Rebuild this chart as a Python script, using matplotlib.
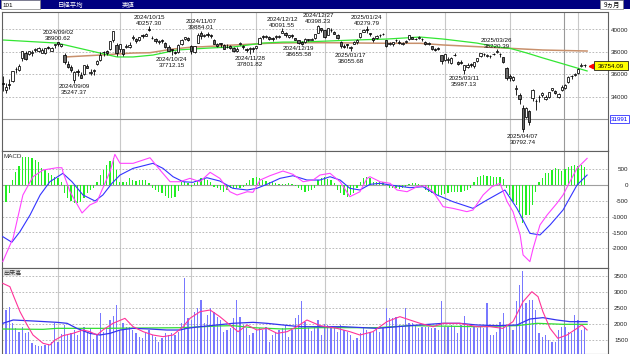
import numpy as np
import matplotlib
matplotlib.use("Agg")
import matplotlib.pyplot as plt
from matplotlib.patches import Rectangle
from matplotlib.transforms import IdentityTransform

# ---- data ----
# daily candles, Aug 2024 .. May 2025 (index = trading day)
opens = [
    35250, 34600, 35150, 35400, 36480, 36380, 37400, 37900, 37800, 37900,
    38180, 38100, 37900, 37900, 38420, 38100, 38600,
    38830, 38520, 37700, 36900, 36600, 35500, 36300, 35900, 36000, 36700,
    36070, 36250, 36900, 37300, 38000, 38100, 38200, 39000, 38600,
    38200, 38200, 38400, 38450, 39200, 39100, 39000, 39450, 39400, 40000,
    39250, 39100, 38900, 39000, 38800, 38400, 38200, 38000, 38000, 38700,
    39100, 39200,
    38500, 38000, 38800, 39700, 39400, 39600, 39500, 39000, 38700, 38800,
    38600, 38400, 38500, 38300, 38100, 38700, 38500, 38200, 38200, 38300,
    38350, 38700, 39400, 39300, 39300, 39200, 39300, 39300, 39700, 39700,
    39300, 39500, 39200, 39000, 38900, 38900, 39100, 39050, 39200, 39700, 40100,
    39900, 39500, 39900, 39800, 39500, 38900, 38500, 38700, 38300, 38700,
    38900, 39300, 39800, 40000, 39700, 39200, 39250, 39500, 39600,
    39000, 38700, 38700, 39000, 38900, 38700, 38900, 39100, 39300, 39100,
    39200, 39100, 38900, 38700, 38500, 38200, 38300, 37700,
    37300, 37300, 37000, 37700, 37100, 37100, 36400, 36600, 36900, 36700,
    37200, 37600, 37800, 37600, 37600, 37800, 38000, 37800, 37500, 36500,
    35800, 35500, 34700, 34100, 33000, 32200, 32700, 33900, 33600, 34000,
    34100, 33800, 34000, 34600, 34500, 34000, 34600, 34800, 35300, 35800, 35900,
    36100, 36700, 36800]
highs = [
    35850, 35250, 35550, 36320, 36590, 36900, 38100, 38070, 38100, 38180,
    38360, 38400, 38300, 38320, 38500, 38450, 38720,
    38900, 38720, 37840, 37160, 36800, 36250, 36450, 36180, 36850, 36900,
    36420, 36420, 37300, 37950, 38050, 38120, 38950, 39830, 38800,
    38690, 38200, 38700, 38900, 39450, 39200, 39350, 39570, 39700, 40257,
    39400, 39180, 39050, 39100, 38850, 38600, 38200, 38100, 38650, 39100,
    39320, 39300,
    38600, 38500, 39700, 39884, 39600, 39800, 39600, 39100, 38800, 38800,
    38700, 38700, 38600, 38450, 38400, 38900, 38600, 38300, 38400, 38400,
    38550, 39300, 39450, 39450, 39400, 39300, 39450, 39450, 40092, 39800,
    39500, 39550, 39250, 39000, 38950, 39250, 39150, 39200, 39600, 40398, 40150,
    39950, 40150, 40100, 39850, 39550, 38950, 38700, 38700, 38550, 38950,
    39100, 39700, 40000, 40280, 39700, 39300, 39450, 39600, 39700,
    39000, 38900, 38900, 39100, 39000, 38900, 39050, 39500, 39350, 39250,
    39400, 39250, 38950, 38850, 38500, 38350, 38400, 37700,
    37800, 37500, 37500, 37900, 37200, 37300, 36800, 37000, 37000, 37100,
    37450, 37900, 37900, 37800, 37700, 37900, 38220, 37900, 37500, 36600,
    36000, 35800, 35000, 34300, 33200, 33100, 32800, 34650, 33800, 34100,
    34400, 34100, 34400, 34800, 34600, 34300, 35000, 35100, 35800, 35900, 36100,
    36500, 37000, 36900]
lows = [
    34480, 34300, 34680, 35280, 36080, 36300, 37200, 37300, 37740, 37590,
    38000, 38000, 37860, 37800, 38200, 38050, 38350,
    38520, 38400, 36900, 36500, 36150, 35247, 35800, 35620, 35950, 36500,
    35950, 35900, 36800, 37200, 37650, 37700, 38150, 38900, 37650,
    37980, 37600, 38300, 38300, 39050, 38800, 38950, 39200, 39400, 39850,
    39100, 38800, 38700, 38800, 38350, 38100, 37712, 37800, 37900, 38600,
    39000, 38950,
    37800, 37900, 38800, 39150, 39300, 39300, 39200, 38700, 38400, 38450,
    38200, 38300, 38200, 37950, 38000, 38600, 38250, 37950, 37802, 37950,
    38200, 38700, 39150, 39200, 39000, 38950, 39150, 39200, 39650, 39350,
    39250, 39250, 39000, 38656, 38600, 38800, 38950, 39000, 39100, 39650, 39800,
    39200, 39500, 39800, 39550, 39150, 38350, 38300, 38300, 38056, 38650,
    38700, 39250, 39750, 39700, 39400, 38900, 39100, 39300, 39500,
    38400, 38600, 38500, 38900, 38700, 38600, 38750, 39000, 39100, 39050,
    39150, 38950, 38600, 38600, 38150, 38050, 38150, 36900,
    37200, 37000, 36900, 37600, 36800, 36900, 35987, 36500, 36600, 36500,
    37100, 37500, 37600, 37500, 37400, 37700, 37900, 37500, 37000, 35500,
    35400, 35400, 34100, 33300, 30793, 32100, 31500, 33600, 32800, 33500,
    34000, 33700, 33900, 34500, 34200, 33900, 34500, 34700, 35200, 35600, 35800,
    36000, 36600, 36600]
closes = [
    35090, 34830, 35025, 36233, 36442, 36727, 38063, 37389, 38063, 37952,
    38211, 38364, 38110, 38289, 38372, 38363, 38648,
    38700, 38686, 37048, 36657, 36391, 36216, 36159, 35620, 36833, 36582,
    36203, 36380, 37155, 37724, 37941, 37870, 38926, 39830, 37920,
    38652, 37809, 38552, 38636, 39333, 38938, 39278, 39381, 39606, 39911,
    39180, 38911, 38982, 38955, 38412, 38105, 38143, 37914, 38606, 39028,
    39277, 39081,
    38054, 38475, 39481, 39381, 39500, 39533, 39376, 38722, 38536, 38643,
    38221, 38414, 38352, 38026, 38284, 38780, 38442, 38135, 38349, 38208,
    38513, 39249, 39276, 39396, 39091, 39161, 39368, 39372, 39849, 39470,
    39457, 39365, 39082, 38814, 38702, 39161, 39037, 39130, 39568, 40281, 39895,
    39307, 40083, 39981, 39605, 39190, 38474, 38445, 38573, 38451, 38903,
    39028, 39646, 39959, 39932, 39566, 39017, 39415, 39514, 39572,
    38520, 38798, 38831, 39067, 38787, 38801, 38964, 39461, 39149, 39174,
    39270, 39165, 38678, 38777, 38238, 38142, 38256, 37156,
    37785, 37331, 37418, 37705, 36887, 37028, 36793, 36819, 36790, 37053,
    37397, 37845, 37752, 37677, 37608, 37781, 38027, 37800, 37120, 35618,
    35624, 35726, 34736, 33781, 31137, 33013, 31714, 34609, 33586, 33982,
    34268, 33920, 34378, 34730, 34280, 34221, 34869, 35039, 35706, 35840, 36045,
    36452, 36831, 36780]

# first trading day of each month (Sep .. May)
month_first = [17, 36, 58, 78, 99, 118, 136, 156, 177]

# moving averages on the price panel, sampled (day index, price)
ma_green_idx = [0, 16.7, 29.9, 35.2, 40.1, 46.2, 53.6, 58.5, 63.8, 70.8, 80.1, 86.2,
                91.5, 99.8, 107.8, 118.2, 128.4, 135.5, 145.9, 152.1, 156.1, 161.3,
                166.2, 171.5, 176.7, 179.8]
ma_green_val = [39045, 38770, 37880, 37530, 37530, 37700, 38150, 38240, 38330, 38420,
                38770, 38860, 38860, 38950, 39040, 39130, 39310, 39130, 38770, 38420,
                38300, 37880, 37440, 36990, 36545, 36280]
ma_brown_idx = [19.2, 29.9, 40.1, 45.3, 52.4, 58.5, 61.4, 71.3, 81.6, 91.5, 101.6,
                118.2, 128.4, 135.5, 145.9, 156.1, 166.2, 179.8]
ma_brown_val = [37530, 37700, 37880, 37910, 38240, 38420, 38440, 38600, 38750, 38800,
                38800, 38750, 38750, 38600, 38450, 38300, 38150, 38060]

# high / low annotations
ann_idx = [17, 22, 45, 52, 61, 76, 86, 91, 97, 107, 112, 142, 152, 160]
ann_kind = ['H', 'L', 'H', 'L', 'H', 'L', 'H', 'L', 'H', 'L', 'H', 'L', 'H', 'L']
ann_date = ['2024/09/02', '2024/09/09', '2024/10/15', '2024/10/24', '2024/11/07',
            '2024/11/28', '2024/12/12', '2024/12/19', '2024/12/27', '2025/01/17',
            '2025/01/24', '2025/03/11', '2025/03/26', '2025/04/07']
ann_value = ['38900.62', '35247.37', '40257.30', '37712.15', '39884.01', '37801.82',
             '40091.55', '38655.58', '40398.23', '38055.68', '40279.79', '35987.13',
             '38220.39', '30792.74']
last_price = 36754.09
cursor_price = 31991
cursor_day = 172.7

# MACD panel
macd_idx = [0, 3.2, 6.2, 9.3, 12.4, 16.7, 18.2, 18.5, 20.7, 24.4, 26.8, 29.0, 30.8,
            33.0, 34.5, 36.1, 40.1, 45.3, 48.4, 51.5, 54.5, 57.6, 60.7, 63.8, 66.8,
            69.9, 72.1, 75.2, 77.0, 79.2, 82.2, 86.2, 89.3, 92.4, 95.5, 97.6, 100.7,
            103.8, 106.8, 109.9, 112.1, 113.0, 116.1, 119.2, 121.3, 124.4, 127.5,
            129.9, 132.4, 135.5, 138.5, 142.8, 144.7, 147.8, 150.5, 153.0, 155.2,
            157.0, 159.2, 160.1, 162.2, 163.2, 165.3, 167.5, 170.5, 172.4, 174.5,
            176.7, 179.8]
macd_val = [-2424, -1675, -316, 262, 474, 547, 547, 420, -212, -885, -632, -527, -95,
            420, 970, 686, 686, 863, 474, 104, 104, 211, 104, 401, 211,
            -212, -316, -212, -231, 158, 294, 442, 338, 104, 158, 316, 370,
            104, -369, -212, 211, 262, 104, 54, -158, -212, -53,
            -22, -212, -685, -738, -843, -790, -316, -53, 54, -527,
            -843, -1580, -2212, -2424, -2001, -1264, -948, -579, -316, 104,
            527, 843]
signal_idx = [0, 2.8, 5.3, 8.4, 11.5, 14.5, 18.5, 21.3, 24.7, 28.4, 30.8, 33.6, 36.1,
              40.1, 46.2, 49.3, 52.4, 55.5, 58.5, 62.8, 66.8, 70.8, 75.2, 78.2, 81.3,
              85.3, 89.3, 93.6, 97.6, 100.7, 103.8, 106.8, 109.9, 113.0, 116.1, 119.2,
              125.3, 129.3, 133.6, 138.5, 144.7, 149.0, 154.5, 158.2, 162.2, 165.3,
              168.4, 172.4, 176.7, 179.8]
signal_val = [-1633, -1811, -1475, -948, -316, 104, 370, 104, -316, -506, -316, 54, 316,
              527, 686, 527, 262, 104, 85, 231, 126, -104, -158, -104, 22,
              211, 294, 158, 158, 262, 158, -104, -158, 22, 54, 0,
              -84, -53, -316, -527, -738, -474, -158, -738, -1528, -1580,
              -1264, -790, 0, 316]
macd_hist = [
    -790, -527, -263, 158, 420, 611, 895, 895, 900, 853, 790, 737, 547, 474, 370, 316, 262, 211, 104,
    -250, -421, -506, -580, -580, -530, -421, -263, -158, -84,
    104, 316, 474, 632, 758, 843, 474,
    84, 84, 84, 211, 158, 130, 158, 158, 158,
    50, -100, -158, -211, -263, -337, -421, -421, -369, -200,
    104, 104, 60, -53, 50,
    126, 211, 180, 150, 80,
    -50, -104, -158, -211, -150,
    -100, -84, -84, -84, -60,
    50, 150, 211, 262, 211, 158, 120, 100, 80, 60,
    30, 20, 40, 60, 40, -30, -104, -158, -211, -180, -150, -104,
    158, 211, 262, 200, 158,
    50, -150, -263, -316, -369, -330, -263, -104,
    100, 230, 262, 211,
    104, 104, 104, 80, 30,
    -104, -104, -104, -120, -104, -60,
    30, 54, 54, 40,
    -50, -158, -211, -263, -290, -316, -316, -300, -263, -211, -211, -211, -211, -180, -158, -104,
    100, 262, 300, 316, 300, 280, 262, 262, 240, 200,
    -100, -316, -527, -632, -843, -1212, -948, -948, -632, -211,
    100, 211, 370, 370, 474, 547, 500, 443, 500, 580, 611, 632, 611, 632, 580]

# volume panel
volume = [
    1990, 2437, 2542, 2021, 1865, 1760, 1917, 1708, 1760, 1396, 1344, 1313, 1313, 1344, 1365,
    1448, 2021, 1427, 1700, 1969, 1656, 1708, 1813, 1656, 1865, 1917, 1760, 1865, 1531, 1656,
    2333, 1760, 1865, 2125, 2250, 2594, 1813, 2021, 1917, 1917, 1813, 1708, 1604, 1552, 1708,
    1813, 1656, 1604, 1448, 1552, 1708, 1656, 1708, 1656, 1760, 2021, 3427, 2177, 2125, 2385,
    2490, 2750, 2021, 2281, 2490, 2385, 2229, 2125, 1760, 1813, 1865, 2177, 2750, 2229, 1969,
    1865, 1656, 1708, 1813, 1865, 1800, 1917, 1448, 1656, 1760, 1813, 1865, 1969, 1604, 1813,
    2177, 2281, 2719, 2073, 1865, 1781, 1917, 2125, 1656, 1990, 1969, 1917, 1865, 1760, 1969,
    1813, 1760, 1656, 1500, 1573, 1708, 1865, 1813, 1760, 1760, 1865, 1760, 1865, 2490, 2177,
    2177, 2229, 1969, 1917, 2490, 2021, 2021, 1969, 1865, 1917, 1917, 1917, 1865, 1865, 1813,
    2719, 1917, 1917, 1969, 1917, 1708, 1969, 2260, 1969, 1865, 1917, 1865, 1917, 1865, 2646,
    1656, 1656, 1760, 2073, 2333, 1917, 1990, 1800, 2719, 3219, 3656, 2646, 2750, 2750, 2437,
    1708, 1604, 1656, 1500, 1448, 1448, 1813, 1917, 1917, 1760, 1708, 2281, 2125, 1813, 1900]
vol_pink_idx = [0, 2.2, 3.2, 5.3, 7.5, 9.3, 12.4, 14.5, 16.1, 18.5, 21.6, 24.7, 26.8, 29.0,
                30.8, 33.9, 37.6, 40.1, 43.2, 46.2, 49.3, 52.4, 55.5, 57.6, 60.7, 63.8,
                66.8, 69.9, 72.4, 75.2, 78.2, 81.3, 84.4, 87.5, 90.5, 93.6, 97.6, 102.8,
                106.8, 109.9, 113.9, 118.2, 122.2, 125.3, 128.4, 132.4, 135.5, 140.7,
                145.9, 149.9, 153.9, 157.0, 160.1, 162.8, 164.7, 166.2, 168.4, 170.8,
                173.6, 176.7, 178.2, 179.8]
vol_pink_val = [3271, 3167, 2906, 2385, 1969, 1656, 1396, 1344, 1500, 1635, 1708, 1812, 1760,
                1656, 1812, 2021, 2177, 1916, 1760, 1656, 1604, 1656, 1916, 2177, 2385,
                2437, 2229, 1969, 1760, 1969, 1812, 1864, 1708, 1760, 1916, 2125, 1950,
                1864, 1760, 1656, 1760, 2073, 2229, 2125, 2021, 1916, 2021, 2021, 1916,
                1916, 1864, 2073, 2698, 3010, 2854, 2385, 1864, 1552, 1656, 1864, 1969,
                1812]
vol_blue_idx = [0, 3.2, 9.3, 16.7, 19.8, 22.8, 26.8, 29.9, 33.0, 36.1, 40.1, 45.3, 50.5,
                54.5, 56.7, 60.7, 65.9, 70.8, 77.0, 81.3, 86.2, 91.5, 96.7, 104.7, 115.2,
                125.3, 135.5, 140.7, 145.9, 152.1, 158.2, 162.2, 166.2, 170.5, 174.5, 179.8]
vol_blue_val = [2021, 2125, 2094, 2052, 2021, 1864, 1708, 1656, 1708, 1812, 1864, 1843, 1812,
                1812, 1864, 1916, 1969, 2021, 2052, 2021, 1969, 1916, 1916, 1916, 1864,
                1948, 2021, 2021, 1969, 1948, 1969, 2156, 2198, 2125, 2073, 2073]
vol_green_idx = [0, 12.4, 16.7, 29.9, 55.5, 65.9, 70.8, 77.0, 86.2, 96.7, 115.2, 125.3,
                 145.9, 158.2, 164.4, 172.4, 179.8]
vol_green_val = [1843, 1833, 1864, 1864, 1885, 1937, 1948, 1885, 1843, 1885, 1885, 1948,
                 1916, 1948, 2021, 1990, 1990]

price_ticks = [34000, 36000, 38000, 40000]
macd_ticks = [-2000, -1500, -1000, -500, 0, 500]
vol_ticks = [1500, 2000, 2500, 3000, 3500]

# ---- figure ----
W, H = 630, 354
JP = ['Noto Sans CJK JP', 'DejaVu Sans']
SMALL = 4.5                      # pt, about 6.25 px
fig = plt.figure(figsize=(W / 100, H / 100), dpi=100)
fig.patch.set_facecolor('white')


def frac(left, top, right, bottom):
    return [left / W, 1 - bottom / H, (right - left) / W, (bottom - top) / H]


def px_rect(left, top, right, bottom, **kw):
    fig.patches.append(Rectangle((left / W, 1 - bottom / H), (right - left) / W,
                                 (bottom - top) / H, transform=fig.transFigure, **kw))


def label(xd, yd, s, ha='left', color='#101010', size=SMALL, z=10):
    # xd, yd: display pixels (y up), yd = vertical middle of the digits
    base = yd - 0.358 * size * 100 / 72
    fig.text(xd / W, base / H, s, ha=ha, va='baseline', fontsize=size,
             family='Liberation Sans', color=color, zorder=z)


# header bar
px_rect(0, 0, 630, 8.5, facecolor='#000080', edgecolor='none')
px_rect(0.5, 0.5, 40, 8.5, facecolor='white', edgecolor='#808080', lw=0.5)
px_rect(600, 0.5, 623, 8.5, facecolor='white', edgecolor='#808080', lw=0.5)
label(2, H - 4.5, '101', color='black')
fig.text(58 / W, 1 - 4.6 / H, '日経平均', fontsize=4.6, family=JP, color='white', va='center')
fig.text(122 / W, 1 - 4.6 / H, '実値', fontsize=4.6, family=JP, color='white', va='center')
fig.text(611.5 / W, 1 - 4.6 / H, '9ヵ月', fontsize=4.6, family=JP, color='black',
         va='center', ha='center')

ax1 = fig.add_axes(frac(2, 11.7, 608, 150.5))
ax2 = fig.add_axes(frac(2, 150.5, 608, 267.5), sharex=ax1)
ax3 = fig.add_axes(frac(2, 267.5, 608, 354), sharex=ax1)

x = np.arange(len(closes))
o = np.array(opens)
c = np.array(closes)
up = c >= o

for ax in (ax1, ax2, ax3):
    for m in month_first:
        ax.axvline(m, color='#c8c8c8', lw=0.8, zorder=0)
    ax.axvline(cursor_day, color='#999999', lw=0.8, zorder=1)
    ax.tick_params(left=False, bottom=False, labelleft=False, labelbottom=False)
    for s in ax.spines.values():
        s.set_color('#606060')
        s.set_linewidth(0.8)

# price panel
for p in price_ticks:
    ax1.axhline(p, color='#b0b0b0', lw=0.6, ls=(0, (2, 2)), zorder=0)
ax1.axhline(cursor_price, color='#999999', lw=0.8, zorder=1)
ax1.plot(ma_brown_idx, ma_brown_val, color='#c8906c', lw=1.1, zorder=2)
ax1.plot(ma_green_idx, ma_green_val, color='#33e633', lw=0.9, zorder=2)
ax1.vlines(x, lows, highs, color='black', lw=0.6, zorder=3)
ax1.bar(x, np.maximum(np.abs(c - o), 15), bottom=np.minimum(o, c), width=0.74,
        color=np.where(up, 'white', '#6a6a6a'), edgecolor='black', lw=0.55, zorder=4)
ax1.set_ylim(29179, 41571)

# MACD panel
for v in macd_ticks:
    if v != 0:
        ax2.axhline(v, color='#b0b0b0', lw=0.6, ls=(0, (2, 2)), zorder=0)
ax2.axhline(0, color='#a0a0a0', lw=0.8, zorder=0)
ax2.bar(x, macd_hist, width=0.42, color='#22ee22', zorder=2)
ax2.plot(signal_idx, signal_val, color='#3333ff', lw=0.8, zorder=3)
ax2.plot(macd_idx, macd_val, color='#ff44ff', lw=0.8, zorder=4)
ax2.set_ylim(-2610, 1092)

# volume panel
for v in vol_ticks:
    ax3.axhline(v, color='#b0b0b0', lw=0.6, ls=(0, (2, 2)), zorder=0)
ax3.bar(x, volume, width=0.4, color='#7878ff', zorder=2)
ax3.plot(vol_green_idx, vol_green_val, color='#33dd33', lw=0.9, zorder=3)
ax3.plot(vol_blue_idx, vol_blue_val, color='#3333ee', lw=0.9, zorder=4)
ax3.plot(vol_pink_idx, vol_pink_val, color='#ff3399', lw=0.8, zorder=5)
ax3.set_ylim(1062, 3766)

ax1.set_xlim((2 - 2.75) / 3.25, (608 - 2.75) / 3.25)

# right-hand scale labels
for ax, ticks in ((ax1, price_ticks), (ax2, macd_ticks), (ax3, vol_ticks)):
    for t in ticks:
        yd = ax.transData.transform((0, t))[1]
        label(628, yd, str(t), ha='right', color='#202020')

# panel captions
label(4, H - 156, 'MACD', color='#303030')
px_rect(2.5, 268.5, 20, 276, facecolor='#e4e4e4', edgecolor='none')
fig.text(3.5 / W, 1 - 272.3 / H, '出来高', fontsize=4.4, family=JP, va='center',
         color='#333333')

# high / low labels
for i, k, d, v in zip(ann_idx, ann_kind, ann_date, ann_value):
    if k == 'H':
        xd, yd = ax1.transData.transform((i, highs[i]))
        label(xd, yd + 9.6, d, ha='center')
        label(xd, yd + 3.6, v, ha='center')
    else:
        xd, yd = ax1.transData.transform((i, lows[i]))
        label(xd, yd - 3.4, d, ha='center')
        label(xd, yd - 9.4, v, ha='center')

# last price badge and cursor price box
xd, yd = ax1.transData.transform((179, last_price))
fig.patches.append(Rectangle((594, yd - 4.5), 34, 9, transform=IdentityTransform(),
                             fc='#ffff00', ec='#202020', lw=0.6, zorder=9))
label(611, yd, f'{last_price:.2f}', ha='center', color='black')
ax1.plot([180.9], [last_price], marker='<', color='red', ms=3.2, zorder=6, clip_on=False)
yd = ax1.transData.transform((0, cursor_price))[1]
fig.patches.append(Rectangle((610, yd - 4.2), 19, 8.4, transform=IdentityTransform(),
                             fc='white', ec='#3030ff', lw=0.6, zorder=9))
label(619.5, yd, str(cursor_price), ha='center', color='#0000ff')

fig.savefig('out.png', dpi=100)
